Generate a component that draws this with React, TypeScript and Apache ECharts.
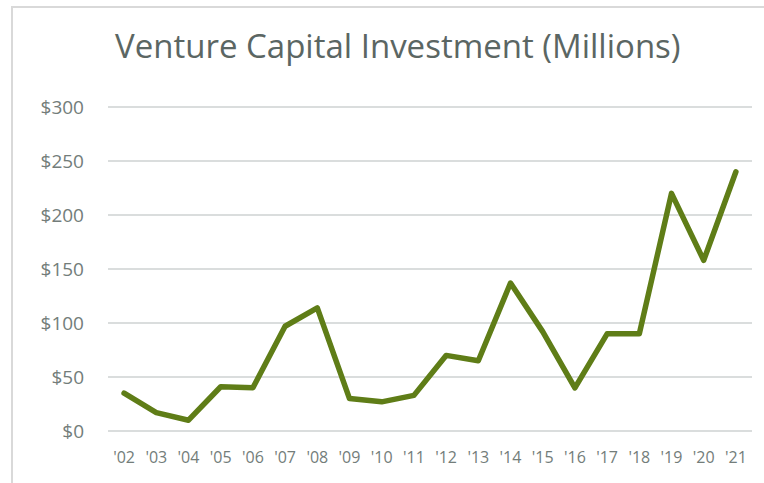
import React, { useEffect, useRef } from "react";
import * as echarts from "echarts";

const categories = ["'02", "'03", "'04", "'05", "'06", "'07", "'08", "'09", "'10", "'11", "'12", "'13", "'14", "'15", "'16", "'17", "'18", "'19", "'20", "'21"];
const investment = [35, 17, 10, 41, 40, 97, 114, 30, 27, 33, 70, 65, 137, 92, 40, 90, 90, 220, 158, 240];
const titleText = "Venture Capital Investment (Millions)";

export default function App() {
  const ref = useRef<HTMLDivElement>(null);
  useEffect(() => {
    document.body.style.margin = "0";
    if (!ref.current) return;
    const chart = echarts.init(ref.current, null, { renderer: "svg" });
    chart.setOption({
      animation: false,
      backgroundColor: "#ffffff",
      title: {
        text: titleText,
        left: 110,
        top: 24,
        textStyle: {
          fontFamily: "Open Sans",
          fontSize: 33,
          fontWeight: "normal",
          color: "#5b6663",
        },
      },
      graphic: [
        {
          type: "rect",
          shape: { x: 12, y: 7, width: 760, height: 490 },
          style: { fill: "none", stroke: "#d9d9d9", lineWidth: 2 },
          silent: true,
        },
      ],
      grid: { left: 108, right: 12, top: 107, bottom: 52, containLabel: false },
      xAxis: {
        type: "category",
        data: categories,
        boundaryGap: true,
        axisLine: { show: false },
        axisTick: { show: false },
        axisLabel: {
          interval: 0,
          margin: 18,
          fontFamily: "Open Sans",
          fontSize: 16,
          color: "#737d7a",
        },
      },
      yAxis: {
        type: "value",
        min: 0,
        max: 300,
        interval: 50,
        axisLine: { show: false },
        axisTick: { show: false },
        splitLine: { lineStyle: { color: "#dadddd", width: 2 } },
        axisLabel: {
          margin: 24,
          fontFamily: "Open Sans",
          fontSize: 19,
          color: "#737d7a",
          formatter: (v: number) => "$" + v,
        },
      },
      series: [
        {
          type: "line",
          data: investment,
          symbol: "none",
          lineStyle: { color: "#5f7d17", width: 5.5, cap: "round", join: "round" },
        },
      ],
    });
    return () => chart.dispose();
  }, []);
  return <div ref={ref} style={{ width: 764, height: 483 }} />;
}
